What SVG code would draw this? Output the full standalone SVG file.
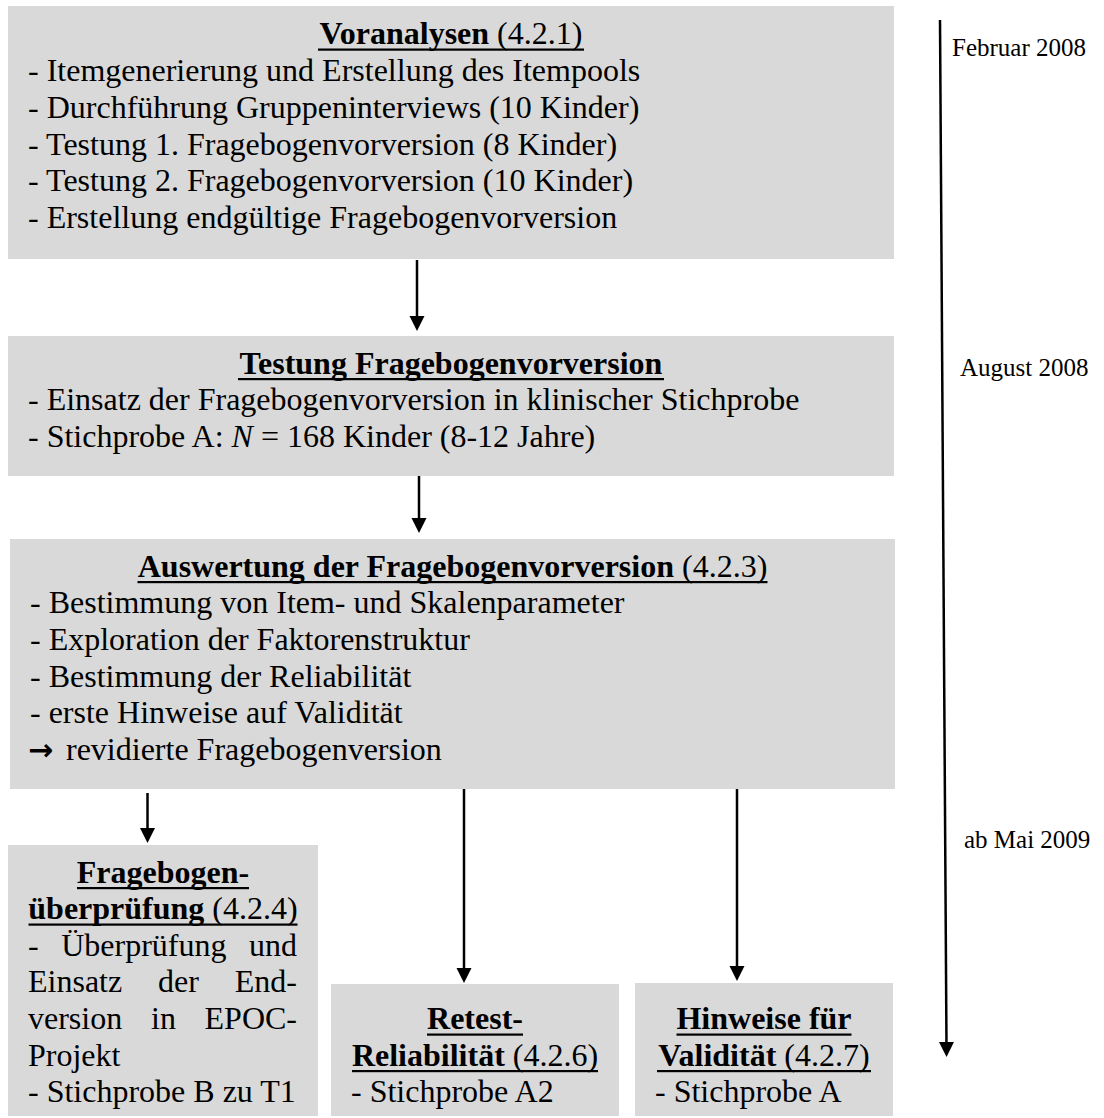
<svg xmlns="http://www.w3.org/2000/svg" width="1104" height="1118" viewBox="0 0 1104 1118">
  <style>
    .box { fill: #d9d9d9; }
    .t { font-family: "Liberation Serif", "Times New Roman", serif; font-size: 32px; fill: #000; }
    .b { font-weight: bold; }
    .c { text-anchor: middle; }
    .e { text-anchor: end; }
    .ul { fill: #000; }
    .date { font-family: "Liberation Serif", "Times New Roman", serif; font-size: 25px; fill: #000; }
    .arrow { stroke: #000; stroke-width: 2.5; fill: none; }
  </style>
  <defs>
    <marker id="head" markerUnits="userSpaceOnUse" markerWidth="16" markerHeight="16" refX="5" refY="7.5" orient="auto">
      <path d="M0,0 L15,7.5 L0,15 z" fill="#000"/>
    </marker>
  </defs>

  <rect width="1104" height="1118" fill="#fff"/>

  <!-- Phase 1 -->
  <g id="voranalysen">
    <rect class="box" x="8" y="6" width="886" height="253"/>
    <text class="t c" x="451" y="44"><tspan class="b">Voranalysen</tspan> (4.2.1)</text>
    <rect class="ul" x="318" y="48.5" width="266" height="2.2"/>
    <text class="t" x="28" y="81">- Itemgenerierung und Erstellung des Itempools</text>
    <text class="t" x="28" y="118">- Durchführung Gruppeninterviews (10 Kinder)</text>
    <text class="t" x="28" y="155">- Testung 1. Fragebogenvorversion (8 Kinder)</text>
    <text class="t" x="28" y="191">- Testung 2. Fragebogenvorversion (10 Kinder)</text>
    <text class="t" x="28" y="228">- Erstellung endgültige Fragebogenvorversion</text>
  </g>

  <!-- Phase 2 -->
  <g id="testung">
    <rect class="box" x="8" y="336" width="886" height="140"/>
    <text class="t c b" x="451" y="373.5">Testung Fragebogenvorversion</text>
    <rect class="ul" x="238" y="378" width="426" height="2.2"/>
    <text class="t" x="28" y="410">- Einsatz der Fragebogenvorversion in klinischer Stichprobe</text>
    <text class="t" x="28" y="447">- Stichprobe A: <tspan font-style="italic">N</tspan> = 168 Kinder (8-12 Jahre)</text>
  </g>

  <!-- Phase 3 -->
  <g id="auswertung">
    <rect class="box" x="10" y="539" width="885" height="250"/>
    <text class="t c" x="452.5" y="576.5"><tspan class="b">Auswertung der Fragebogenvorversion</tspan> (4.2.3)</text>
    <rect class="ul" x="137.5" y="581" width="630" height="2.2"/>
    <text class="t" x="30" y="613">- Bestimmung von Item- und Skalenparameter</text>
    <text class="t" x="30" y="650">- Exploration der Faktorenstruktur</text>
    <text class="t" x="30" y="686.5">- Bestimmung der Reliabilität</text>
    <text class="t" x="30" y="723">- erste Hinweise auf Validität</text>
    <text class="t" x="28" y="760"><tspan font-family="DejaVu Sans, sans-serif" font-weight="bold" font-size="30">→</tspan></text>
    <text class="t" x="66" y="760">revidierte Fragebogenversion</text>
  </g>

  <!-- Follow-up studies -->
  <g id="ueberpruefung">
    <rect class="box" x="8" y="845" width="310" height="271"/>
    <text class="t c b" x="163" y="882.5">Fragebogen-</text>
    <rect class="ul" x="77" y="887" width="172" height="2.2"/>
    <text class="t c" x="163" y="919"><tspan class="b">überprüfung</tspan> (4.2.4)</text>
    <rect class="ul" x="28.5" y="923.5" width="269" height="2.2"/>
    <text class="t" x="28" y="955.7">-</text>
    <text class="t" x="61.2" y="955.7">Überprüfung</text>
    <text class="t e" x="297" y="955.7">und</text>
    <text class="t" x="28" y="992.3">Einsatz</text>
    <text class="t" x="158" y="992.3">der</text>
    <text class="t e" x="297" y="992.3">End-</text>
    <text class="t" x="28" y="1029">version</text>
    <text class="t" x="151" y="1029">in</text>
    <text class="t e" x="297" y="1029">EPOC-</text>
    <text class="t" x="28" y="1065.5">Projekt</text>
    <text class="t" x="28" y="1102">- Stichprobe B zu T1</text>
  </g>

  <g id="retest">
    <rect class="box" x="331" y="984" width="288" height="132"/>
    <text class="t c b" x="475" y="1029">Retest-</text>
    <rect class="ul" x="427" y="1033.5" width="96" height="2.2"/>
    <text class="t c" x="475" y="1065.5"><tspan class="b">Reliabilität</tspan> (4.2.6)</text>
    <rect class="ul" x="352" y="1070" width="246" height="2.2"/>
    <text class="t" x="351" y="1102">- Stichprobe A2</text>
  </g>

  <g id="validitaet">
    <rect class="box" x="635" y="983" width="258" height="133"/>
    <text class="t c b" x="764" y="1029">Hinweise für</text>
    <rect class="ul" x="676.5" y="1033.5" width="175" height="2.2"/>
    <text class="t c" x="764" y="1065.5"><tspan class="b">Validität</tspan> (4.2.7)</text>
    <rect class="ul" x="657" y="1070" width="214" height="2.2"/>
    <text class="t" x="655" y="1102">- Stichprobe A</text>
  </g>

  <!-- Time axis -->
  <g id="timeline">
    <line class="arrow" x1="940" y1="20" x2="946.5" y2="1047" stroke-width="2" marker-end="url(#head)"/>
    <text class="date" x="952" y="56">Februar 2008</text>
    <text class="date" x="960" y="376">August 2008</text>
    <text class="date" x="964" y="848">ab Mai 2009</text>
  </g>

  <!-- Flow arrows -->
  <g id="connectors">
    <line class="arrow" x1="417" y1="260" x2="417" y2="321" marker-end="url(#head)"/>
    <line class="arrow" x1="419" y1="476" x2="419" y2="523" marker-end="url(#head)"/>
    <line class="arrow" x1="147.5" y1="793" x2="147.5" y2="833" marker-end="url(#head)"/>
    <line class="arrow" x1="464" y1="789" x2="464" y2="973" marker-end="url(#head)"/>
    <line class="arrow" x1="737" y1="789" x2="737" y2="971" marker-end="url(#head)"/>
  </g>
</svg>
